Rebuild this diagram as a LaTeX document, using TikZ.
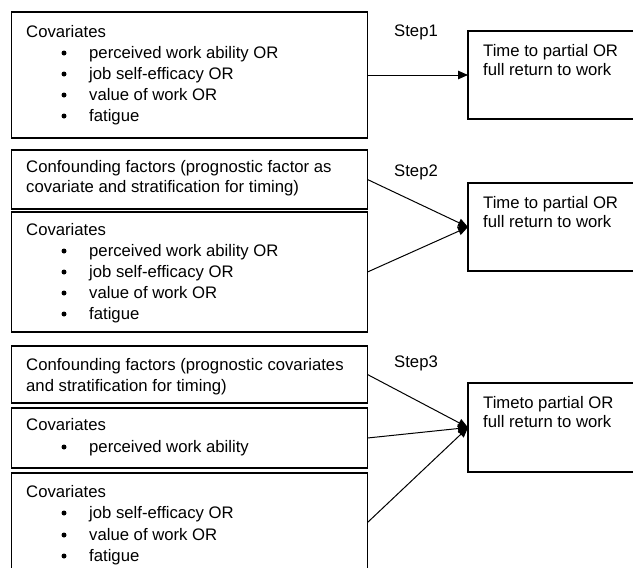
\documentclass[tikz,border=0pt]{standalone}
\usepackage{fontspec}
\setmainfont{Liberation Sans}
\usetikzlibrary{arrows.meta}
\begin{document}
\begin{tikzpicture}[x=1pt,y=-1pt,
  box/.style={draw, line width=1.6pt, rectangle, anchor=north west, inner sep=0pt, outer sep=0pt, minimum width=356pt},
  rbox/.style={draw, line width=1.6pt, rectangle, anchor=north west, inner sep=0pt, outer sep=0pt, minimum width=200pt},
  txt/.style={anchor=base west, inner sep=0pt, font=\fontsize{16.7}{20}\selectfont},
  bul/.style={circle, fill, inner sep=0pt, minimum size=5pt},
  arr/.style={line width=1pt, -{Triangle[length=10pt,width=8.5pt]}}]
\useasboundingbox (0,0) rectangle (633,568);
\clip (0,0) rectangle (633,568);

% ---------- Step 1 ----------
\node[box, minimum height=126pt] (a1) at (11.5,12) {};
\node[txt] (a1t) at (26,37.5) {Covariates};
\node[bul] (a1b1) at (64,53) {};  \node[txt] (a1t1) at (89,58.5) {perceived work ability OR};
\node[bul] (a1b2) at (64,74) {};  \node[txt] (a1t2) at (89,79.5) {job self-efficacy OR};
\node[bul] (a1b3) at (64,95) {};  \node[txt] (a1t3) at (89,100.5) {value of work OR};
\node[bul] (a1b4) at (64,116) {}; \node[txt] (a1t4) at (89,121.5) {fatigue};

\node[txt] (s1) at (394,36.5) {Step1};
\node[rbox, minimum height=88pt] (r1) at (468,31) {};
\node[txt] (r1t1) at (483,56.5) {Time to partial OR};
\node[txt] (r1t2) at (483,75.5) {full return to work};
\draw[arr] (a1.east) -- (r1.west);

% ---------- Step 2 ----------
\node[box, minimum height=59pt] (a2c) at (11.5,150) {};
\node[txt] (a2c1) at (26,172.5) {Confounding factors (prognostic factor as};
\node[txt] (a2c2) at (26,192.5) {covariate and stratification for timing)};

\node[box, minimum height=120pt] (a2v) at (11.5,212) {};
\node[txt] (a2t) at (26,235.5) {Covariates};
\node[bul] (a2b1) at (64,251) {}; \node[txt] (a2t1) at (89,256.5) {perceived work ability OR};
\node[bul] (a2b2) at (64,272) {}; \node[txt] (a2t2) at (89,277.5) {job self-efficacy OR};
\node[bul] (a2b3) at (64,293) {}; \node[txt] (a2t3) at (89,298.5) {value of work OR};
\node[bul] (a2b4) at (64,314) {}; \node[txt] (a2t4) at (89,319.5) {fatigue};

\node[txt] (s2) at (394,176.5) {Step2};
\node[rbox, minimum height=88pt] (r2) at (468,183) {};
\node[txt] (r2t1) at (483,208.5) {Time to partial OR};
\node[txt] (r2t2) at (483,227.5) {full return to work};
\draw[arr] (a2c.east) -- (r2.west);
\draw[arr] (a2v.east) -- (r2.west);

% ---------- Step 3 ----------
\node[box, minimum height=57pt] (a3c) at (11.5,346) {};
\node[txt] (a3c1) at (26,370.5) {Confounding factors (prognostic covariates};
\node[txt] (a3c2) at (26,391.5) {and stratification for timing)};

\node[box, minimum height=60pt] (a3v) at (11.5,408) {};
\node[txt] (a3t) at (26,430.5) {Covariates};
\node[bul] (a3b1) at (64,447) {}; \node[txt] (a3t1) at (89,452.5) {perceived work ability};

\node[box, minimum height=99pt] (a3w) at (11.5,473) {};
\node[txt] (a3u) at (26,497.5) {Covariates};
\node[bul] (a3d1) at (64,513) {}; \node[txt] (a3u1) at (89,518.5) {job self-efficacy OR};
\node[bul] (a3d2) at (64,535) {}; \node[txt] (a3u2) at (89,540.5) {value of work OR};
\node[bul] (a3d3) at (64,556) {}; \node[txt] (a3u3) at (89,561.5) {fatigue};

\node[txt] (s3) at (394,367.5) {Step3};
\node[rbox, minimum height=89pt] (r3) at (468,383) {};
\node[txt] (r3t1) at (483,408.5) {Timeto partial OR};
\node[txt] (r3t2) at (483,427.5) {full return to work};
\draw[arr] (a3c.east) -- (r3.west);
\draw[arr] (a3v.east) -- (r3.west);
\draw[arr] (a3w.east) -- (r3.west);
\end{tikzpicture}
\end{document}
